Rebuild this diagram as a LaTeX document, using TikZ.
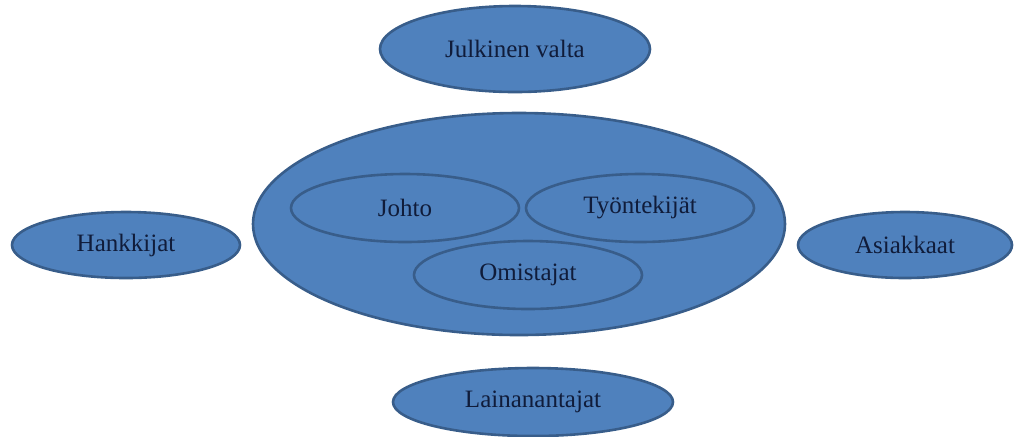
\documentclass[tikz,border=0pt]{standalone}
\usepackage{fontspec}
\setmainfont{Liberation Serif}
\usetikzlibrary{shapes.geometric}
\definecolor{groupfill}{RGB}{79,129,189}
\definecolor{groupline}{RGB}{56,93,138}
\definecolor{grouptext}{RGB}{16,28,58}
\begin{document}
\begin{tikzpicture}
  [x=0.5pt,y=-0.5pt,
   group/.style={ellipse, draw=groupline, fill=groupfill, line width=1.3pt,
     inner sep=0pt, text=grouptext, font=\fontsize{12.5}{15}\selectfont}]
  \useasboundingbox (0,0) rectangle (1020,436);

  % the firm and its inner groups
  \node[group, minimum width=266pt, minimum height=111pt] (yritys) at (519,224) {};
  \node[group, minimum width=114pt, minimum height=34pt] (johto) at (405,208) {Johto};
  \node[group, minimum width=114pt, minimum height=34pt] (tyontekijat) at (640,208) {Työntekijät};
  \node[group, minimum width=114pt, minimum height=34pt] (omistajat) at (528,275) {Omistajat};

  % outside groups
  \node[group, minimum width=135pt, minimum height=43pt] (julkinen) at (515,49) {Julkinen valta};
  \node[group, minimum width=114pt, minimum height=33pt] (hankkijat) at (126,245) {Hankkijat};
  \node[group, minimum width=107pt, minimum height=33pt] (asiakkaat) at (905,245) {Asiakkaat};
  \node[group, minimum width=140pt, minimum height=34pt] (lainanantajat) at (533,402) {Lainanantajat};
\end{tikzpicture}
\end{document}
